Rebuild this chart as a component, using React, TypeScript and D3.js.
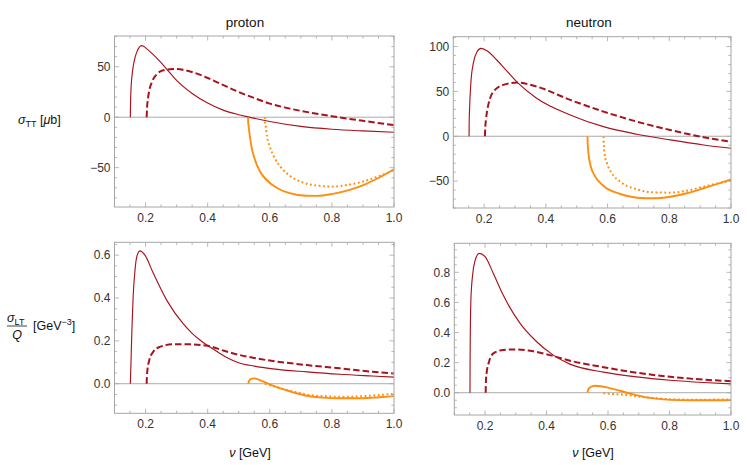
import * as d3 from "d3";

type Pt = [number, number];

// ── photon energy axis (GeV) ───────────────────────────────────────────
const NU_DOMAIN: [number, number] = [0.1, 1.0];
const NU_TICKS = [0.2, 0.4, 0.6, 0.8, 1.0];

// ── proton σ_TT [μb] ───────────────────────────────────────────────────
const P_TT_RED_SOLID: Pt[] = [
  [0.151, 0], [0.1515, 12], [0.153, 27], [0.156, 40], [0.16, 50], [0.166, 59],
  [0.173, 65.5], [0.18, 69.5], [0.187, 71], [0.195, 70], [0.205, 67.5],
  [0.225, 62], [0.25, 54], [0.27, 47], [0.3, 36.5], [0.35, 23.5], [0.4, 14],
  [0.45, 7], [0.5, 2.5], [0.53, 0.3], [0.6, -4.3], [0.7, -9.1], [0.8, -11.9],
  [0.9, -13.6], [1.0, -14.9],
];
const P_TT_RED_DASH: Pt[] = [
  [0.2035, 0], [0.205, 10], [0.208, 19], [0.212, 26.5], [0.22, 34.5],
  [0.236, 42.5], [0.257, 46.5], [0.289, 47.8], [0.32, 47], [0.353, 44.5],
  [0.407, 38], [0.46, 30.5], [0.5, 25], [0.55, 19], [0.6, 13.5], [0.65, 9.5],
  [0.7, 6.3], [0.8, 1], [0.9, -3.6], [1.0, -7.8],
];
const P_TT_ORANGE_SOLID: Pt[] = [
  [0.53, 0], [0.5305, -5], [0.532, -9.3], [0.536, -19], [0.541, -29],
  [0.552, -42], [0.568, -53.5], [0.589, -62], [0.621, -69.7], [0.664, -75.3],
  [0.718, -77.9], [0.75, -78], [0.803, -76], [0.857, -72], [0.911, -66],
  [0.954, -59.5], [1.0, -51.5],
];
const P_TT_ORANGE_DOT: Pt[] = [
  [0.584, 0], [0.5845, -5], [0.587, -9.3], [0.591, -19], [0.6, -29],
  [0.616, -40.6], [0.638, -50.5], [0.664, -58], [0.707, -64.8], [0.761, -68],
  [0.803, -68.7], [0.847, -67.3], [0.9, -63.8], [0.954, -58.1], [1.0, -52.5],
];

// ── neutron σ_TT [μb] ──────────────────────────────────────────────────
const N_TT_RED_SOLID: Pt[] = [
  [0.151, 0], [0.1515, 15], [0.153, 33], [0.157, 60], [0.165, 81.5],
  [0.176, 93.7], [0.19, 98], [0.208, 95.5], [0.241, 85], [0.273, 73],
  [0.311, 59], [0.37, 42.4], [0.479, 23.8], [0.587, 10.7], [0.695, 2.2],
  [0.803, -4.1], [0.911, -9.7], [1.0, -13.4],
];
const N_TT_RED_DASH: Pt[] = [
  [0.2025, 0], [0.2035, 9], [0.206, 19], [0.21, 29], [0.219, 42],
  [0.235, 51.7], [0.262, 57.3], [0.306, 59.8], [0.37, 55.4], [0.479, 40.5],
  [0.587, 27.5], [0.695, 16.3], [0.803, 7], [0.911, -1.1], [1.0, -6],
];
const N_TT_ORANGE_SOLID: Pt[] = [
  [0.535, 0], [0.5355, -8], [0.538, -19], [0.546, -34], [0.56, -45],
  [0.587, -55.5], [0.641, -64.4], [0.695, -68.5], [0.749, -69.2],
  [0.803, -67.4], [0.857, -63.6], [0.911, -58], [1.0, -48],
];
const N_TT_ORANGE_DOT: Pt[] = [
  [0.587, 0], [0.5875, -8], [0.59, -19], [0.598, -30], [0.614, -41.3],
  [0.641, -50.7], [0.695, -59.2], [0.749, -62.5], [0.803, -62.9],
  [0.857, -60.7], [0.911, -56.2], [1.0, -49.5],
];

// ── proton σ_LT / Q [GeV⁻³] ────────────────────────────────────────────
const P_LT_RED_SOLID: Pt[] = [
  [0.151, 0], [0.153, 0.095], [0.156, 0.25], [0.16, 0.405], [0.166, 0.53],
  [0.173, 0.6], [0.182, 0.62], [0.198, 0.6], [0.225, 0.515], [0.268, 0.39],
  [0.321, 0.28], [0.35, 0.235], [0.375, 0.204], [0.4, 0.178], [0.43, 0.15],
  [0.46, 0.124], [0.5, 0.098], [0.55, 0.082], [0.61, 0.069], [0.72, 0.055],
  [0.825, 0.044], [0.93, 0.036], [1.0, 0.031],
];
const P_LT_RED_DASH: Pt[] = [
  [0.2035, 0], [0.205, 0.048], [0.212, 0.11], [0.225, 0.15], [0.246, 0.172],
  [0.289, 0.184], [0.332, 0.184], [0.4, 0.177], [0.45, 0.155], [0.5, 0.135],
  [0.55, 0.12], [0.61, 0.106], [0.72, 0.087], [0.825, 0.072], [0.93, 0.056],
  [1.0, 0.048],
];
const P_LT_ORANGE_SOLID: Pt[] = [
  [0.531, 0], [0.534, 0.015], [0.54, 0.023], [0.548, 0.025], [0.568, 0.017],
  [0.6, -0.003], [0.632, -0.021], [0.675, -0.04], [0.718, -0.056],
  [0.771, -0.065], [0.825, -0.068], [0.879, -0.068], [0.932, -0.065],
  [0.98, -0.06], [1.0, -0.058],
];
const P_LT_ORANGE_DOT: Pt[] = [
  [0.584, -0.001], [0.611, -0.011], [0.643, -0.025], [0.686, -0.04],
  [0.729, -0.053], [0.782, -0.059], [0.836, -0.061], [0.889, -0.059],
  [0.943, -0.054], [1.0, -0.047],
];

// ── neutron σ_LT / Q [GeV⁻³] ───────────────────────────────────────────
const N_LT_RED_SOLID: Pt[] = [
  [0.151, 0], [0.1513, 0.2], [0.152, 0.38], [0.154, 0.62], [0.16, 0.79],
  [0.167, 0.875], [0.181, 0.926], [0.2, 0.904], [0.227, 0.793],
  [0.259, 0.649], [0.314, 0.461], [0.368, 0.339], [0.422, 0.25],
  [0.476, 0.19], [0.585, 0.137], [0.693, 0.105], [0.802, 0.083],
  [0.91, 0.068], [1.0, 0.059],
];
const N_LT_RED_DASH: Pt[] = [
  [0.202, 0], [0.2028, 0.07], [0.205, 0.129], [0.213, 0.206], [0.227, 0.262],
  [0.259, 0.284], [0.303, 0.288], [0.346, 0.279], [0.422, 0.244],
  [0.476, 0.213], [0.585, 0.17], [0.693, 0.133], [0.802, 0.106],
  [0.91, 0.087], [1.0, 0.077],
];
const N_LT_ORANGE_SOLID: Pt[] = [
  [0.533, 0], [0.536, 0.022], [0.542, 0.036], [0.557, 0.046], [0.575, 0.043],
  [0.596, 0.036], [0.639, 0.013], [0.682, -0.011], [0.726, -0.031],
  [0.78, -0.044], [0.834, -0.049], [0.889, -0.05], [0.943, -0.05],
  [1.0, -0.049],
];
const N_LT_ORANGE_DOT: Pt[] = [
  [0.585, -0.003], [0.617, -0.009], [0.661, -0.015], [0.704, -0.027],
  [0.758, -0.037], [0.812, -0.044], [0.867, -0.046], [0.921, -0.046],
  [1.0, -0.044],
];

const RED = "#a8121c";
const ORANGE = "#ff8e0f";
const FRAME = "#a6a6a6";
const FONT = "'Liberation Sans', Arial, sans-serif";

const STYLE = {
  redSolid: { stroke: RED, width: 1.15, dash: undefined as string | undefined },
  redDash: { stroke: RED, width: 2, dash: "6.5,3" },
  orangeSolid: { stroke: ORANGE, width: 1.9, dash: undefined as string | undefined },
  orangeDot: { stroke: ORANGE, width: 2, dash: "1.8,2.6" },
};

interface Panel {
  id: string;
  x0: number; x1: number; y0: number; y1: number;
  yDomain: [number, number];
  yTicks: number[];
  yMinorStep: number;
  fmt: (d: number) => string;
  curves: { data: Pt[]; style: keyof typeof STYLE }[];
}

const intFmt = (d: number) => (d < 0 ? "\u2212" + Math.abs(d) : String(d));
const decFmt = (d: number) => d.toFixed(1);

const PANELS: Panel[] = [
  {
    id: "pTT", x0: 114.5, x1: 394, y0: 36, y1: 207,
    yDomain: [-89, 80.5], yTicks: [-50, 0, 50], yMinorStep: 10, fmt: intFmt,
    curves: [
      { data: P_TT_RED_SOLID, style: "redSolid" },
      { data: P_TT_RED_DASH, style: "redDash" },
      { data: P_TT_ORANGE_SOLID, style: "orangeSolid" },
      { data: P_TT_ORANGE_DOT, style: "orangeDot" },
    ],
  },
  {
    id: "nTT", x0: 453.3, x1: 731, y0: 36.7, y1: 208,
    yDomain: [-80, 111], yTicks: [-50, 0, 50, 100], yMinorStep: 10, fmt: intFmt,
    curves: [
      { data: N_TT_RED_SOLID, style: "redSolid" },
      { data: N_TT_RED_DASH, style: "redDash" },
      { data: N_TT_ORANGE_SOLID, style: "orangeSolid" },
      { data: N_TT_ORANGE_DOT, style: "orangeDot" },
    ],
  },
  {
    id: "pLT", x0: 114.5, x1: 394, y0: 242.3, y1: 413.3,
    yDomain: [-0.138, 0.66], yTicks: [0, 0.2, 0.4, 0.6], yMinorStep: 0.05, fmt: decFmt,
    curves: [
      { data: P_LT_RED_SOLID, style: "redSolid" },
      { data: P_LT_RED_DASH, style: "redDash" },
      { data: P_LT_ORANGE_SOLID, style: "orangeSolid" },
      { data: P_LT_ORANGE_DOT, style: "orangeDot" },
    ],
  },
  {
    id: "nLT", x0: 454.3, x1: 731, y0: 243.3, y1: 415,
    yDomain: [-0.148, 0.993], yTicks: [0, 0.2, 0.4, 0.6, 0.8], yMinorStep: 0.05, fmt: decFmt,
    curves: [
      { data: N_LT_RED_SOLID, style: "redSolid" },
      { data: N_LT_RED_DASH, style: "redDash" },
      { data: N_LT_ORANGE_SOLID, style: "orangeSolid" },
      { data: N_LT_ORANGE_DOT, style: "orangeDot" },
    ],
  },
];

const MAJOR = 4.5;
const MINOR = 2.6;

function minorTicks(domain: [number, number], step: number) {
  const start = Math.ceil(domain[0] / step - 1e-9);
  const end = Math.floor(domain[1] / step + 1e-9);
  return d3.range(start, end + 1).map((k) => +(k * step).toFixed(6));
}

function PanelView({ p }: { p: Panel }) {
  const x = d3.scaleLinear().domain(NU_DOMAIN).range([p.x0, p.x1]);
  const y = d3.scaleLinear().domain(p.yDomain).range([p.y1, p.y0]);
  const line = d3
    .line<Pt>()
    .x((d) => x(d[0]))
    .y((d) => y(d[1]))
    .curve(d3.curveMonotoneX);

  const xMinor = minorTicks(NU_DOMAIN, 0.05);
  const yMinor = minorTicks(p.yDomain, p.yMinorStep);
  const isMajorX = (v: number) => NU_TICKS.some((t) => Math.abs(t - v) < 1e-6);
  const isMajorY = (v: number) => p.yTicks.some((t) => Math.abs(t - v) < 1e-6);

  return (
    <g>
      <defs>
        <clipPath id={`clip-${p.id}`}>
          <rect x={p.x0} y={p.y0} width={p.x1 - p.x0} height={p.y1 - p.y0} />
        </clipPath>
      </defs>

      {/* zero line */}
      <line x1={p.x0} x2={p.x1} y1={y(0)} y2={y(0)} stroke="#ababab" strokeWidth={1} />

      {/* curves */}
      <g clipPath={`url(#clip-${p.id})`} fill="none">
        {p.curves.map((c, i) => {
          const s = STYLE[c.style];
          return (
            <path
              key={i}
              d={line(c.data) ?? ""}
              stroke={s.stroke}
              strokeWidth={s.width}
              strokeDasharray={s.dash}
              strokeLinejoin="round"
            />
          );
        })}
      </g>

      {/* frame */}
      <rect x={p.x0} y={p.y0} width={p.x1 - p.x0} height={p.y1 - p.y0} fill="none" stroke={FRAME} strokeWidth={1} />

      {/* x ticks (bottom + top, inside) */}
      {xMinor.map((v) => {
        const len = isMajorX(v) ? MAJOR : MINOR;
        const xx = x(v);
        return (
          <g key={`x${v}`} stroke={FRAME} strokeWidth={0.8}>
            <line x1={xx} x2={xx} y1={p.y1} y2={p.y1 - len} />
            <line x1={xx} x2={xx} y1={p.y0} y2={p.y0 + len} />
          </g>
        );
      })}
      {/* y ticks (left + right, inside) */}
      {yMinor.map((v) => {
        const len = isMajorY(v) ? MAJOR : MINOR;
        const yy = y(v);
        return (
          <g key={`y${v}`} stroke={FRAME} strokeWidth={0.8}>
            <line x1={p.x0} x2={p.x0 + len} y1={yy} y2={yy} />
            <line x1={p.x1} x2={p.x1 - len} y1={yy} y2={yy} />
          </g>
        );
      })}

      {/* tick labels */}
      <g fontFamily={FONT} fontSize={12} fill="#333">
        {NU_TICKS.map((t) => (
          <text key={`xl${t}`} x={x(t)} y={p.y1 + 15} textAnchor="middle">
            {t.toFixed(1)}
          </text>
        ))}
        {p.yTicks.map((t) => (
          <text key={`yl${t}`} x={p.x0 - 4} y={y(t)} dy="0.36em" textAnchor="end">
            {p.fmt(t)}
          </text>
        ))}
      </g>
    </g>
  );
}

export default function App() {
  return (
    <svg
      width={747}
      height={465}
      viewBox="0 0 747 465"
      style={{ position: "absolute", left: 0, top: 0, background: "#fff" }}
    >
      <rect width={747} height={465} fill="#fff" />
      <g fontFamily={FONT} fill="#111">
        <text x={245} y={27} fontSize={13.5} textAnchor="middle">proton</text>
        <text x={589} y={27} fontSize={13.5} textAnchor="middle">neutron</text>

        <text x={18} y={123.5} fontSize={12.5}>
          <tspan fontStyle="italic">σ</tspan>
          <tspan fontSize={9} dy={3}>TT</tspan>
          <tspan dy={-3}> [</tspan>
          <tspan fontStyle="italic">μ</tspan>
          <tspan>b]</tspan>
        </text>

        <text x={7} y={322} fontSize={12.5}>
          <tspan fontStyle="italic">σ</tspan>
          <tspan fontSize={9} dy={3}>LT</tspan>
        </text>
        <line x1={7} x2={27} y1={326} y2={326} stroke="#111" strokeWidth={0.8} />
        <text x={17} y={339} fontSize={12.5} fontStyle="italic" textAnchor="middle">Q</text>
        <text x={33} y={330} fontSize={12.5}>
          <tspan>[GeV</tspan>
          <tspan fontSize={9} dy={-5}>−3</tspan>
          <tspan dy={5}>]</tspan>
        </text>

        <text x={250} y={457} fontSize={12.5} textAnchor="middle">
          <tspan fontStyle="italic">ν</tspan> [GeV]
        </text>
        <text x={593} y={457} fontSize={12.5} textAnchor="middle">
          <tspan fontStyle="italic">ν</tspan> [GeV]
        </text>
      </g>
      {PANELS.map((p) => (
        <PanelView key={p.id} p={p} />
      ))}
    </svg>
  );
}
